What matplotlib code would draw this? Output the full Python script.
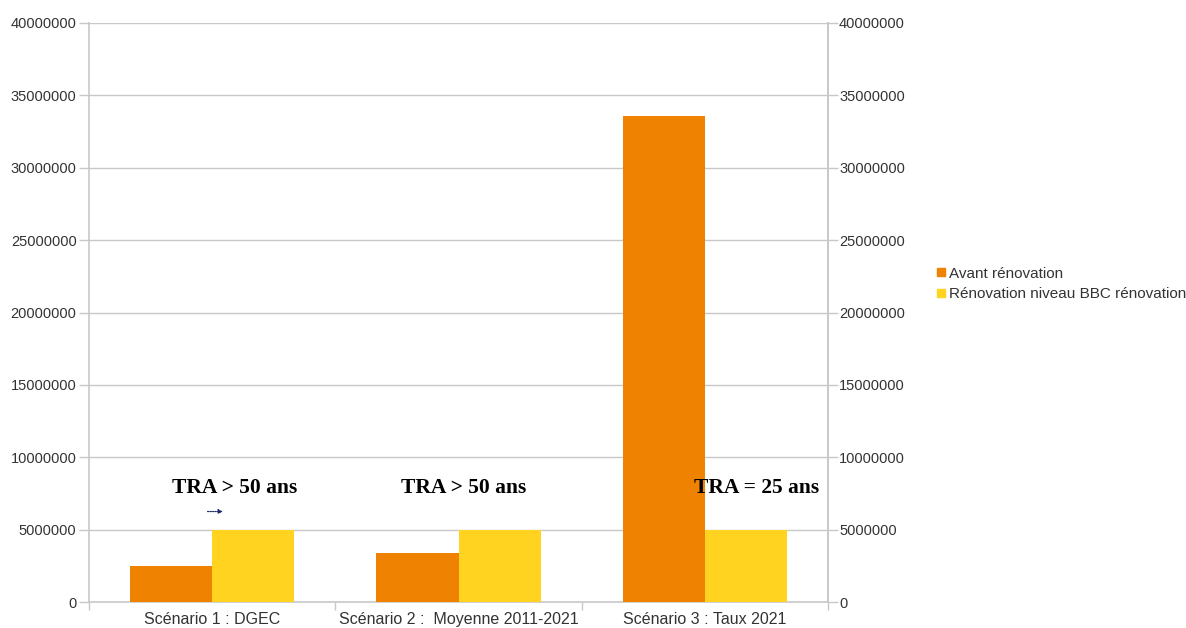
import matplotlib
matplotlib.use("Agg")
import matplotlib.pyplot as plt
import numpy as np
from matplotlib.lines import Line2D

categories = ["Scénario 1 : DGEC", "Scénario 2 :  Moyenne 2011-2021", "Scénario 3 : Taux 2021"]
avant = [2500000, 3400000, 33600000]
bbc = [5000000, 5000000, 5000000]
series_names = ["Avant rénovation", "Rénovation niveau BBC rénovation"]
tra_labels = ["TRA > 50 ans", "TRA > 50 ans", "TRA = 25 ans"]
yticks = list(range(0, 40000001, 5000000))

c_orange = "#ef8200"
c_yellow = "#ffd320"
c_grid = "#c8c8c8"
c_text = "#333333"

plt.rcParams["font.family"] = ["Liberation Sans", "DejaVu Sans"]

fig = plt.figure(figsize=(11.86, 6.28), dpi=100)
ax = fig.add_axes([89 / 1186, 1 - 602 / 628, (828 - 89) / 1186, (602 - 23) / 628])

x = np.arange(len(categories))
w = 1 / 3
ax.bar(x - w / 2, avant, width=w, color=c_orange, zorder=3)
ax.bar(x + w / 2, bbc, width=w, color=c_yellow, zorder=3)

ax.set_xlim(-0.5, len(categories) - 0.5)
ax.set_ylim(0, 40000000)
ax.set_yticks(yticks)
ax.set_yticklabels([str(v) for v in yticks], fontsize=10.5, color=c_text)
ax.yaxis.grid(True, color=c_grid, linewidth=1, zorder=0)
ax.set_axisbelow(True)

# category labels centred, tick marks on group boundaries
ax.set_xticks(x)
ax.set_xticklabels(categories, fontsize=11.5, color=c_text)
ax.tick_params(axis="x", length=0, pad=7)
ax.set_xticks(np.arange(-0.5, len(categories)), minor=True)
ax.tick_params(axis="x", which="minor", length=6, color=c_grid, width=1)
ax.tick_params(axis="y", length=7, color=c_grid, width=1, pad=2)

ax.spines["top"].set_visible(False)
for side in ["left", "right", "bottom"]:
    ax.spines[side].set_color(c_grid)
    ax.spines[side].set_linewidth(1.2)

ax2 = ax.twinx()
ax2.set_ylim(ax.get_ylim())
ax2.set_yticks(yticks)
ax2.set_yticklabels([str(v) for v in yticks], fontsize=10.5, color=c_text)
ax2.tick_params(axis="y", length=7, color=c_grid, width=1, pad=1)
for side in ["top", "left", "bottom"]:
    ax2.spines[side].set_visible(False)
ax2.spines["right"].set_color(c_grid)
ax2.spines["right"].set_linewidth(1.2)

# payback-time annotations above each group
tra_x = [x[0] + 0.09, x[1] + 0.022, x[2] + 0.21]
for xi, lab in zip(tra_x, tra_labels):
    ax.text(xi, 7850000, lab, ha="center", va="center", fontsize=15.5,
            fontweight="bold", family="Liberation Serif", color="#000000", zorder=5)

ax.annotate("", xy=(0.055, 6250000), xytext=(-0.03, 6250000),
            arrowprops=dict(arrowstyle="-|>", color="#1f2a6b", lw=0.9,
                            linestyle=(0, (1, 1)), mutation_scale=6), zorder=5)

handles = [Line2D([], [], marker="s", linestyle="none", markersize=6,
                  markerfacecolor=c, markeredgecolor=c)
           for c in (c_orange, c_yellow)]
fig.legend(handles, series_names, loc="center left",
           bbox_to_anchor=(920 / 1186, 1 - 284 / 628), frameon=False,
           fontsize=11, handletextpad=0.0, labelspacing=0.45,
           handlelength=1.0, labelcolor=c_text)

fig.savefig("out.png", dpi=100, facecolor="white")
